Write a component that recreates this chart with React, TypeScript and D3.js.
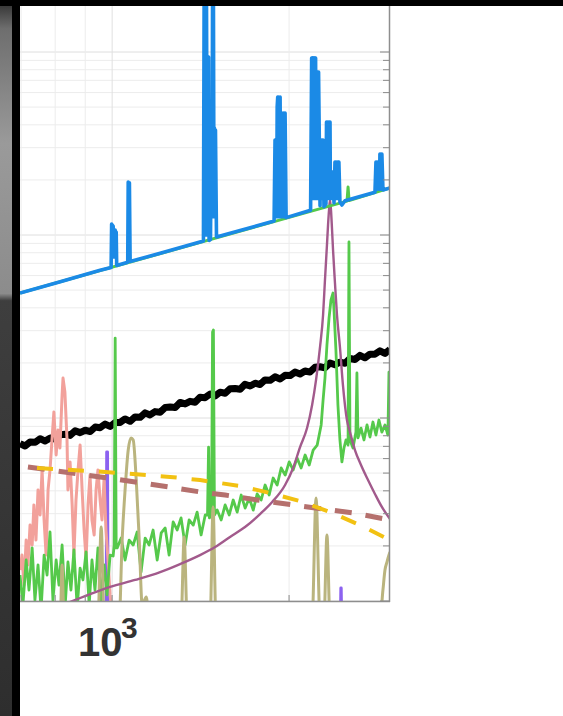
import * as d3 from "d3";

// [frequency Hz, log10 amplitude]
const blackTrace: [number, number][] = [
  [697, -2.14], [711, -2.153], [725, -2.131], [740, -2.133], [754, -2.113], [769, -2.126],
  [785, -2.109], [800, -2.116], [816, -2.091], [832, -2.089], [848, -2.095], [865, -2.07],
  [882, -2.08], [900, -2.067], [918, -2.074], [936, -2.049], [954, -2.053], [973, -2.033],
  [992, -2.046], [1012, -2.025], [1032, -2.024], [1052, -2.005], [1073, -2.018], [1094, -1.994],
  [1116, -1.996], [1138, -1.972], [1160, -1.983], [1183, -1.965], [1207, -1.969], [1231, -1.942],
  [1255, -1.94], [1280, -1.943], [1305, -1.915], [1331, -1.923], [1357, -1.909], [1384, -1.914],
  [1411, -1.887], [1439, -1.889], [1468, -1.869], [1497, -1.879], [1526, -1.859], [1557, -1.865],
  [1587, -1.84], [1619, -1.839], [1651, -1.843], [1683, -1.816], [1717, -1.825], [1751, -1.81],
  [1785, -1.817], [1820, -1.792], [1857, -1.794], [1893, -1.775], [1931, -1.787], [1969, -1.767],
  [2008, -1.768], [2047, -1.749], [2088, -1.76], [2129, -1.743], [2171, -1.749], [2214, -1.723],
  [2258, -1.72], [2302, -1.726], [2348, -1.699], [2394, -1.709], [2441, -1.695], [2490, -1.701],
  [2539, -1.675], [2589, -1.68], [2640, -1.658], [2692, -1.671], [2746, -1.651], [2800, -1.651],
  [2855, -1.633], [2912, -1.647], [2970, -1.625],
];

const pinkTrace: [number, number][] = [
  [697, -2.831], [702.5, -2.749], [708, -2.913], [714, -2.667], [719, -2.803], [725, -2.585],
  [731, -2.694], [736, -2.475], [742, -2.667], [748, -2.393], [754, -2.53], [760, -2.284],
  [766, -2.557], [772, -2.749], [778, -2.393], [784, -2.284], [790, -2.12], [796, -1.967],
  [803, -2.202], [809, -2.066], [815, -2.164], [822, -1.874], [825, -1.782], [831, -1.858],
  [838, -2.12], [841, -2.393], [848, -2.24], [855, -2.475], [861, -2.749], [868, -2.448],
  [875, -2.284], [882, -2.148], [889, -2.393], [896, -2.612], [903, -2.776], [910, -2.475],
  [917, -2.312], [924, -2.557], [932, -2.639], [939, -2.393], [946, -2.284], [954, -2.448],
  [961, -2.557], [969, -2.328], [976, -2.612], [984, -2.776], [992, -2.967], [1000, -3.076],
];

const greenTrace: [number, number][] = [
  [697, -2.858], [705, -3.022], [714, -2.776], [722, -2.94], [731, -2.71], [739, -2.995],
  [748, -2.803], [757, -3.049], [766, -2.749], [775, -2.858], [784, -2.623], [793, -2.995],
  [803, -2.776], [812, -2.913], [822, -2.694], [832, -3.022], [841, -2.787], [851, -2.94],
  [861, -2.721], [872, -3.038], [882, -2.82], [892, -2.885], [903, -2.732], [914, -3.022],
  [924, -2.776], [935, -2.94], [946, -2.71], [958, -2.995], [969, -2.803], [980, -2.967],
  [992, -2.749], [1004, -2.754], [1008, -2.694], [1012, -1.563], [1016, -2.71],
  [1020, -2.71], [1036, -2.656], [1052, -2.776], [1069, -2.667], [1086, -2.694], [1103, -2.623],
  [1120, -2.842], [1138, -2.656], [1156, -2.694], [1174, -2.612], [1193, -2.776], [1212, -2.628],
  [1231, -2.601], [1250, -2.749], [1270, -2.568], [1290, -2.612], [1310, -2.546], [1331, -2.694],
  [1352, -2.557], [1374, -2.585], [1395, -2.514], [1417, -2.639], [1440, -2.53], [1453, -2.53],
  [1459, -2.159], [1464, -2.546], [1476, -2.514], [1482, -1.53], [1487, -1.519], [1493, -2.53],
  [1509, -2.503], [1533, -2.557], [1557, -2.475], [1582, -2.53], [1607, -2.448], [1632, -2.514],
  [1658, -2.421], [1684, -2.492], [1711, -2.437], [1738, -2.503], [1765, -2.415], [1793, -2.448],
  [1821, -2.366], [1850, -2.421], [1879, -2.328], [1909, -2.366], [1939, -2.273], [1970, -2.312],
  [2001, -2.24], [2032, -2.284], [2064, -2.219], [2097, -2.273], [2130, -2.202], [2164, -2.257],
  [2198, -2.175], [2233, -2.148], [2268, -2.038],
  [2285, -1.902], [2302, -1.782], [2320, -1.601], [2339, -1.454], [2357, -1.355], [2376, -1.317],
  [2385, -1.41], [2403, -1.629], [2422, -1.929], [2441, -2.12], [2460, -2.24], [2480, -2.164],
  [2500, -2.12], [2520, -2.148], [2529, -1.038], [2539, -2.12], [2569, -2.164], [2599, -2.077],
  [2609, -1.754], [2620, -2.109], [2651, -2.055], [2682, -2.12], [2714, -2.038], [2746, -2.104],
  [2778, -2.022], [2811, -2.093], [2844, -2.011], [2877, -2.077], [2912, -2.038], [2946, -2.093],
  [2958, -1.749], [2970, -2.066],
];

// second green trace, mostly hidden under the blue one
const greenUpper: [number, number][] = [
  [697, -1.317], [2510, -0.815], [2520, -0.738], [2530, -0.812], [2970, -0.743],
];

const blueTrace: [number, number][] = [
  [697, -1.317], [816, -1.255], [954, -1.193], [996, -1.177],
  [998, -0.94], [1000, -1.1], [1001, -0.945], [1003, -1.1], [1004, -0.951], [1006, -1.12],
  [1008, -0.97], [1010, -1.12], [1012, -0.973], [1014, -1.12], [1016, -0.984], [1018, -1.167],
  [1063, -1.149], [1065, -0.71], [1068, -1.1], [1070, -0.715], [1073, -1.145],
  [1207, -1.1], [1430, -1.033], [1434, 0.35], [1438, -1.0], [1441, 0.35], [1444, -1.0],
  [1447, 0.35], [1450, -0.5], [1453, -0.028], [1456, -0.9], [1459, -0.028], [1462, -1.03],
  [1470, -1.025], [1476, -0.333], [1479, -0.9], [1482, 0.35], [1484, -0.9], [1487, 0.35],
  [1490, -0.8], [1493, -0.415], [1496, -0.9], [1499, -0.426], [1505, -1.011],
  [1717, -0.96], [1886, -0.923], [1893, -0.481], [1897, -0.9], [1901, -0.481], [1905, -0.9],
  [1909, -0.3], [1913, -0.246], [1917, -0.9], [1921, -0.246], [1926, -0.9], [1931, -0.246],
  [1935, -0.8], [1938, -0.525], [1942, -0.9], [1946, -0.525], [1950, -0.85], [1953, -0.333],
  [1957, -0.9], [1961, -0.333], [1965, -0.9], [1969, -0.333], [1977, -0.905],
  [2176, -0.865], [2185, -0.033], [2189, -0.8], [2193, -0.033], [2197, -0.8], [2201, -0.033],
  [2205, -0.8], [2210, -0.033], [2214, -0.8], [2219, -0.033], [2223, -0.8], [2228, -0.11],
  [2232, -0.8], [2236, -0.11], [2241, -0.8], [2245, -0.11], [2258, -0.84], [2262, -0.481],
  [2266, -0.8], [2271, -0.481], [2276, -0.8], [2280, -0.481], [2285, -0.481], [2293, -0.845],
  [2311, -0.83], [2316, -0.383], [2320, -0.8], [2325, -0.383], [2330, -0.8], [2334, -0.383],
  [2339, -0.8], [2344, -0.383], [2348, -0.383], [2352, -0.8], [2357, -0.656], [2362, -0.8],
  [2367, -0.656], [2376, -0.656], [2385, -0.825], [2394, -0.601], [2399, -0.8], [2403, -0.601],
  [2408, -0.8], [2413, -0.601], [2418, -0.8], [2422, -0.601], [2431, -0.601], [2441, -0.82],
  [2460, -0.836], [2490, -0.813], [2800, -0.766], [2811, -0.601], [2816, -0.75], [2822, -0.601],
  [2828, -0.75], [2833, -0.601], [2844, -0.672], [2850, -0.75], [2855, -0.558], [2861, -0.75],
  [2866, -0.558], [2872, -0.75], [2877, -0.558], [2889, -0.754], [2970, -0.743],
];

const khakiTrace: [number, number][] = [
  [697, -3.1], [816, -3.1], [822, -2.803], [828, -3.1], [946, -3.1], [958, -2.596], [969, -3.1],
  [1028, -3.1], [1040, -2.667], [1052, -2.393], [1065, -2.175], [1077, -2.109], [1086, -2.12],
  [1099, -2.339], [1112, -2.667], [1125, -3.022], [1143, -2.978], [1156, -3.1], [1310, -3.1],
  [1326, -2.65], [1342, -3.1], [1468, -3.1], [1485, -2.486], [1502, -3.1], [2189, -3.1],
  [2223, -2.437], [2258, -3.1], [2293, -3.1], [2320, -2.639], [2348, -3.1], [2855, -3.1],
  [2889, -2.94], [2912, -2.831], [2935, -2.787], [2958, -2.749], [2970, -2.732],
];

const violetTrace: [number, number][] = [
  [697, -3.1], [977, -3.1], [979, -2.186], [982, -2.186], [984, -3.1], [2446, -3.1],
  [2450, -2.929], [2453, -2.929], [2457, -3.1], [2970, -3.1],
];

const resonance: [number, number][] = [
  [816, -3.027], [918, -2.962], [992, -2.923], [1094, -2.885], [1207, -2.842], [1305, -2.798],
  [1411, -2.749], [1497, -2.705], [1587, -2.65], [1683, -2.596], [1785, -2.525], [1872, -2.459],
  [1969, -2.366], [2032, -2.273], [2088, -2.159], [2146, -2.055], [2189, -1.929], [2223, -1.792],
  [2258, -1.612], [2285, -1.437], [2302, -1.246], [2320, -1.055], [2330, -0.945], [2339, -0.864],
  [2348, -0.809], [2357, -0.864], [2366, -0.962], [2376, -1.082], [2394, -1.262], [2413, -1.437],
  [2441, -1.612], [2470, -1.82], [2509, -2.011], [2539, -2.077], [2589, -2.175], [2651, -2.257],
  [2725, -2.339], [2800, -2.415], [2877, -2.486], [2970, -2.552],
];

const yellowModel: [number, number][] = [
  [745, -2.273], [973, -2.295], [1255, -2.322], [1411, -2.339], [1651, -2.372], [1857, -2.41],
  [2088, -2.454], [2348, -2.514], [2640, -2.585], [2970, -2.667],
];

const roseModel: [number, number][] = [
  [719, -2.268], [954, -2.322], [1160, -2.361], [1411, -2.404], [1557, -2.421], [1765, -2.448],
  [2032, -2.475], [2569, -2.519], [2970, -2.557],
];

const xDecadeLabel = "10";
const xDecadePower = "3";

const W = 563;
const H = 716;
const left = 20;
const right = 390;
const top = 6;
const bottom = 601;

const x = d3.scaleLog().domain([697, 2970]).range([left, right]);
const y = d3.scaleLog().domain([1e-3, 10 ** 0.2514]).range([bottom, top]);

const line = d3.line<[number, number]>().x(d => x(d[0])).y(d => y(10 ** d[1]));
const smooth = d3.line<[number, number]>().x(d => x(d[0])).y(d => y(10 ** d[1])).curve(d3.curveMonotoneX);

const isDecade = (v: number) => Math.abs(Math.log10(v) - Math.round(Math.log10(v))) < 1e-6;

export default function App() {
  const xTicks = x.ticks();
  const yTicks = y.ticks();

  return (
    <svg width={W} height={H} style={{ position: "absolute", left: 0, top: 0, display: "block" }}>
      <defs>
        <clipPath id="plotClip">
          <rect x={left} y={0} width={right - left} height={bottom} />
        </clipPath>
        <linearGradient id="photo" x1="0" y1="0" x2="0" y2="1">
          <stop offset="0" stopColor="#2c2c2c" />
          <stop offset="0.04" stopColor="#6e6e6e" />
          <stop offset="0.2" stopColor="#9a9a9a" />
          <stop offset="0.41" stopColor="#8c8c8c" />
          <stop offset="0.42" stopColor="#3e3e3e" />
          <stop offset="1" stopColor="#2e2e2e" />
        </linearGradient>
      </defs>
      <rect width={W} height={H} fill="#fff" />

      {/* grid */}
      {yTicks.map((v, i) => (
        <line key={"gy" + i} x1={left} x2={right} y1={y(v)} y2={y(v)}
          stroke={isDecade(v) ? "#dedede" : "#ececec"} strokeWidth={1} />
      ))}
      {xTicks.map((v, i) => (
        <line key={"gx" + i} x1={x(v)} x2={x(v)} y1={top} y2={bottom}
          stroke={isDecade(v) ? "#e0e0e0" : "#ececec"} strokeWidth={1} />
      ))}

      <g clipPath="url(#plotClip)" fill="none" strokeLinejoin="round">
        <path d={line(blackTrace)!} stroke="#000" strokeWidth={7} />
        <path d={line(violetTrace)!} stroke="#8c62f0" strokeWidth={3} />
        <path d={line(pinkTrace)!} stroke="#f2a19b" strokeWidth={3} />
        <path d={line(greenTrace)!} stroke="#55c94b" strokeWidth={2.8} />
        <path d={smooth(khakiTrace)!} stroke="#bab47e" strokeWidth={3} />
        <path d={smooth(resonance)!} stroke="#a25a8c" strokeWidth={2.4} />
        <path d={line(roseModel)!} stroke="#b5706d" strokeWidth={5} strokeDasharray="17 14" />
        <path d={line(yellowModel)!} stroke="#f2c112" strokeWidth={4} strokeDasharray="16 15" />
        <path d={line(greenUpper)!} stroke="#55c94b" strokeWidth={3} />
        <path d={line(blueTrace)!} stroke="#1b8ae6" strokeWidth={3.6} />
      </g>

      {/* axes */}
      <line x1={left} x2={right} y1={bottom + 0.5} y2={bottom + 0.5} stroke="#8e8e8e" strokeWidth={1.5} />
      <line x1={right - 0.5} x2={right - 0.5} y1={top} y2={bottom + 1} stroke="#8e8e8e" strokeWidth={1.5} />
      {yTicks.map((v, i) => (
        <line key={"ty" + i} x1={right - (isDecade(v) ? 10 : 7)} x2={right} y1={y(v)} y2={y(v)}
          stroke="#8a8a8a" strokeWidth={1} />
      ))}
      {xTicks.map((v, i) => (
        <line key={"tx" + i} x1={x(v)} x2={x(v)} y1={bottom} y2={bottom - 6}
          stroke="#8a8a8a" strokeWidth={1} />
      ))}

      <text x={78} y={656} fontFamily="'Liberation Sans', Arial, sans-serif" fontWeight="bold"
        fontSize={40} fill="#333">
        {xDecadeLabel}
      </text>
      <text x={121} y={638} fontFamily="'Liberation Sans', Arial, sans-serif" fontWeight="bold"
        fontSize={30} fill="#333">
        {xDecadePower}
      </text>

      {/* photo edges */}
      <rect x={0} y={0} width={12} height={H} fill="url(#photo)" />
      <rect x={12} y={0} width={8} height={H} fill="#000" />
      <rect x={0} y={0} width={W} height={top} fill="#000" />
    </svg>
  );
}
